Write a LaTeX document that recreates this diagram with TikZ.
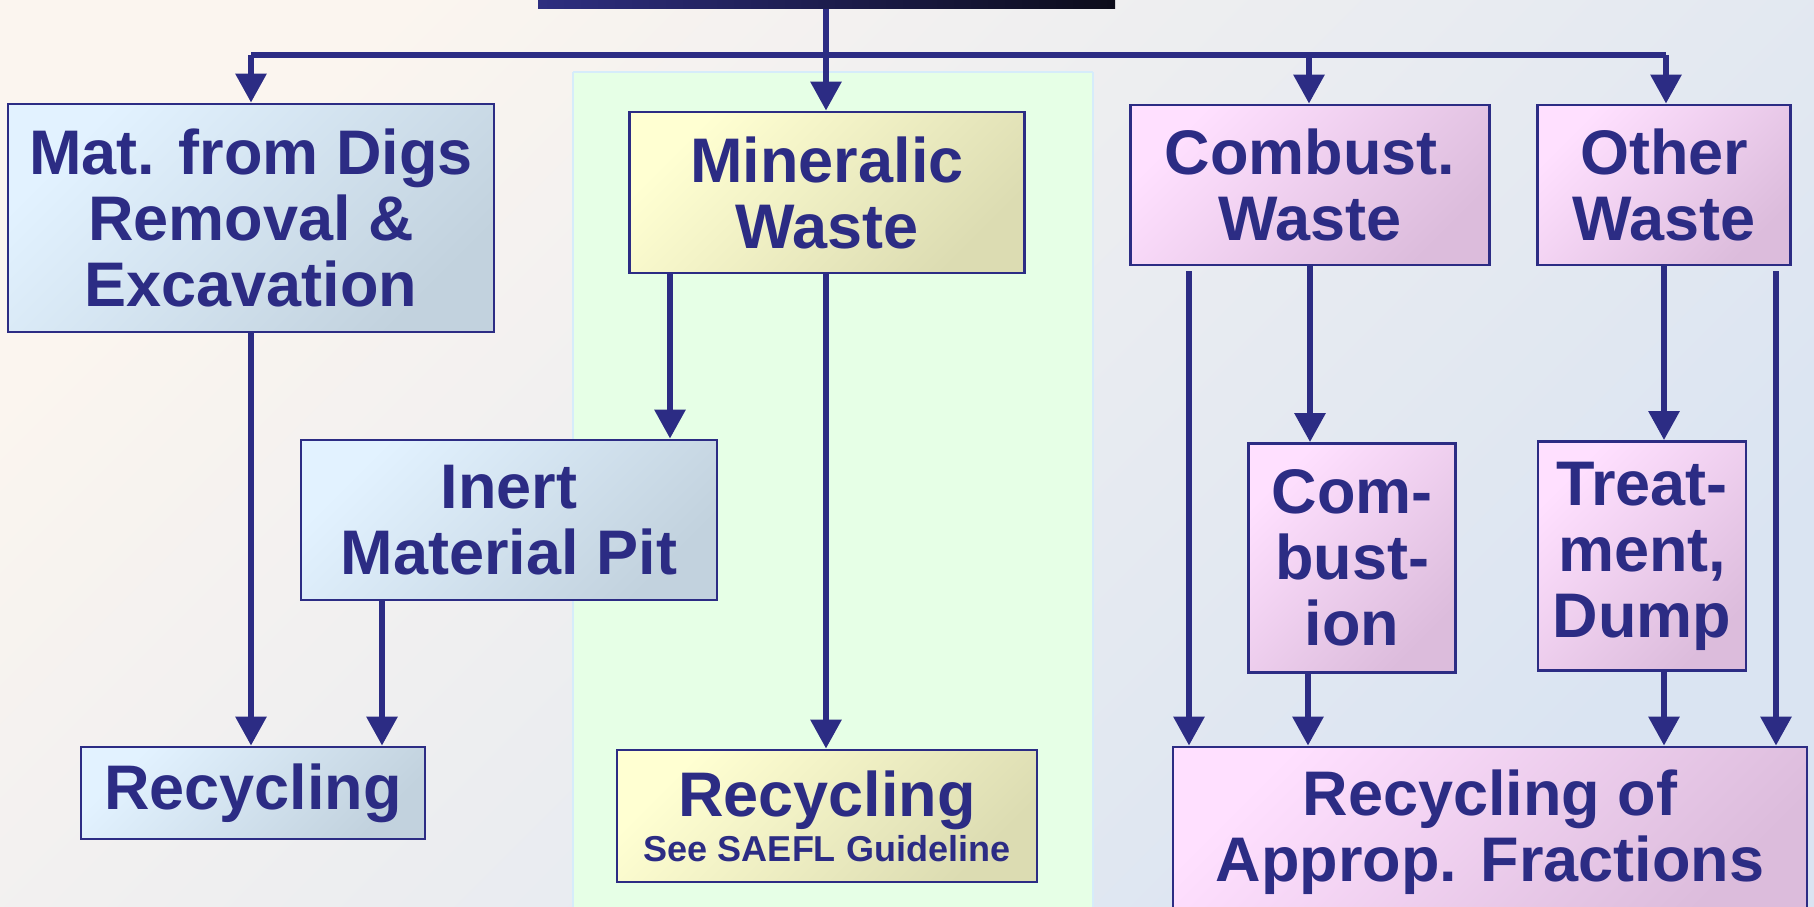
\documentclass[tikz,border=0pt]{standalone}
\usepackage{fontspec}
\setmainfont{Liberation Sans}
\usetikzlibrary{arrows.meta}
\definecolor{navy}{HTML}{2C2C84}
\definecolor{bgA}{HTML}{FBF5EF}
\definecolor{bgB}{HTML}{DAE4F2}
\definecolor{panelfill}{HTML}{E6FFE6}
\definecolor{panelline}{HTML}{D6ECFA}
\definecolor{blA}{HTML}{E2F2FF}
\definecolor{blB}{HTML}{C2D2DE}
\definecolor{yeA}{HTML}{FFFFD2}
\definecolor{yeB}{HTML}{DCDCB2}
\definecolor{piA}{HTML}{FFE0FF}
\definecolor{piB}{HTML}{DCBCDC}
\definecolor{topA}{HTML}{2E2E80}
\definecolor{topB}{HTML}{0C0C1A}
\tikzset{
  box/.style={draw=navy, line width=2.8pt, text=navy, align=center, inner sep=0pt,
    font=\bfseries\fontsize{63}{66}\selectfont},
  bluebox/.style={box, top color=blA, bottom color=blB, shading angle=45},
  yellowbox/.style={box, top color=yeA, bottom color=yeB, shading angle=45},
  pinkbox/.style={box, top color=piA, bottom color=piB, shading angle=45},
  conn/.style={draw=navy, line width=6pt, -{Triangle[width=30pt,length=29pt]}},
  bar/.style={draw=navy, line width=6pt}
}
\begin{document}
\begin{tikzpicture}[x=1pt,y=-1pt]
\clip (0,0) rectangle (1814,907);
\shade[top color=bgA, bottom color=bgB, shading angle=45] (0,0) rectangle (1814,907);
% middle panel
\fill[panelfill] (573,72) rectangle (1093,912);
\draw[panelline, line width=2pt] (573,72) -- (1093,72) (573,72) -- (573,912) (1093,72) -- (1093,912);

% top box
\node[left color=topA, right color=topB, minimum width=577pt, minimum height=10pt, inner sep=0pt] (top) at (826.5,4) {};

% boxes
\node[bluebox, minimum width=486pt, minimum height=228pt] (digs) at (251,218) {Mat. from Digs\\Removal \&\\Excavation};
\node[yellowbox, minimum width=395pt, minimum height=161pt] (min) at (827,192.5) {Mineralic\\Waste};
\node[pinkbox, minimum width=359pt, minimum height=160pt] (comb) at (1310,185) {Combust.\\Waste};
\node[pinkbox, minimum width=253pt, minimum height=160pt] (other) at (1664,185) {Other\\Waste};
\node[bluebox, minimum width=416pt, minimum height=160pt] (inert) at (509,520) {Inert\\Material Pit};
\node[pinkbox, minimum width=207pt, minimum height=229pt] (cbi) at (1352,558) {Com-\\bust-\\ion};
\node[pinkbox, minimum width=208pt, minimum height=229pt] (treat) at (1642,556) {Treat-\\ment,\\Dump};
\node[bluebox, minimum width=344pt, minimum height=92pt] (rl) at (253,793) {Recycling};
\node[yellowbox, minimum width=420pt, minimum height=132pt] (sa) at (827,816) {Recycling\\[-21pt]{\fontsize{36}{40}\selectfont See SAEFL Guideline}};
\node[pinkbox, minimum width=634pt, minimum height=171pt] (appr) at (1490,832.5) {Recycling of\\Approp. Fractions};

% distribution bar
\coordinate (j) at (826,55);
\coordinate (bl) at (251,55);
\coordinate (bc) at (1309,55);
\coordinate (br) at (1666,55);
\draw[bar] (top.south -| j) -- (j);
\draw[bar] (bl) -- (br);
\draw[conn] (bl) -- (bl |- digs.north);
\draw[conn] (j) -- (j |- min.north);
\draw[conn] (bc) -- (bc |- comb.north);
\draw[conn] (br) -- (br |- other.north);

% left column
\draw[conn] (digs.south) -- (digs.south |- rl.north);
\draw[conn] ([xshift=-157pt]min.south) -- ([xshift=-157pt]min.south |- inert.north);
\draw[conn] ([xshift=-1pt]min.south) -- ([xshift=-1pt]min.south |- sa.north);
\draw[conn] ([xshift=-127pt]inert.south) -- ([xshift=-127pt]inert.south |- rl.north);

% right columns
\draw[conn] ([xshift=-121pt,yshift=-5pt]comb.south) -- ([xshift=-121pt]comb.south |- appr.north);
\draw[conn] (comb.south) -- (comb.south |- cbi.north);
\draw[conn] ([xshift=-44pt]cbi.south) -- ([xshift=-44pt]cbi.south |- appr.north);
\draw[conn] (other.south) -- (other.south |- treat.north);
\draw[conn] (treat.south -| other.south) -- (other.south |- appr.north);
\draw[conn] ([xshift=112pt,yshift=-5pt]other.south) -- ([xshift=112pt]other.south |- appr.north);
\end{tikzpicture}
\end{document}
